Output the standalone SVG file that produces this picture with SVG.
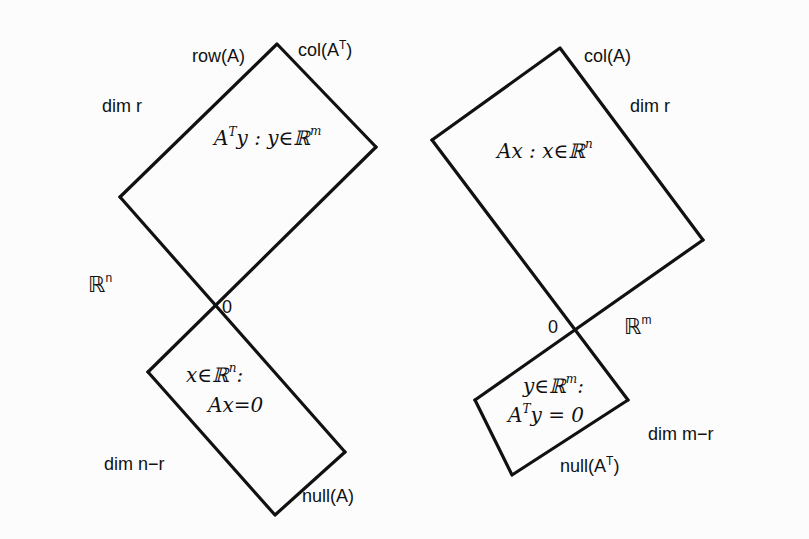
<svg xmlns="http://www.w3.org/2000/svg" width="809" height="539" viewBox="0 0 809 539">
<style>
.ln{fill:none;stroke:#111;stroke-width:3.2;stroke-linecap:round;stroke-linejoin:round}
.t{font-family:"Liberation Sans","DejaVu Sans",sans-serif;font-size:18px;fill:#111}
.m{font-family:"DejaVu Serif","Liberation Serif",serif;font-style:italic;font-size:20px;fill:#111}
.s{font-size:12px}
</style>
<rect width="809" height="539" fill="#fcfcfc"/>
<g id="row-space">
<polyline class="ln" points="120,197 277,44 376,147"/>
<text class="t" x="192" y="62">row(A)</text>
<text class="t" x="298" y="56">col(A<tspan class="s" dy="-7">T</tspan><tspan dy="7">)</tspan></text>
<text class="t" x="102" y="112">dim r</text>
<text class="m" x="214" y="145">A<tspan class="s" dy="-9">T</tspan><tspan dy="9">y : y∈ℝ</tspan><tspan class="s" dy="-10">m</tspan></text>
</g>
<g id="null-space">
<polyline class="ln" points="148,372 275,515 345,452"/>
<text class="m" x="186" y="382">x∈ℝ<tspan class="s" dy="-10">n</tspan><tspan dy="10">:</tspan></text>
<text class="m" x="208" y="412">Ax=0</text>
<text class="t" x="104" y="470">dim n−r</text>
<text class="t" x="302" y="502">null(A)</text>
</g>
<g id="col-space">
<polyline class="ln" points="432,140 560,48 703,240"/>
<text class="t" x="584" y="62">col(A)</text>
<text class="t" x="630" y="112">dim r</text>
<text class="m" x="497" y="158">Ax : x∈ℝ<tspan class="s" dy="-10">n</tspan></text>
</g>
<g id="left-null-space">
<polyline class="ln" points="475,400 512,475 628,400"/>
<text class="m" x="523" y="393">y∈ℝ<tspan class="s" dy="-10">m</tspan><tspan dy="10">:</tspan></text>
<text class="m" x="508" y="422">A<tspan class="s" dy="-9">T</tspan><tspan dy="9">y = 0</tspan></text>
<text class="t" x="648" y="440">dim m−r</text>
<text class="t" x="560" y="472">null(A<tspan class="s" dy="-7">T</tspan><tspan dy="7">)</tspan></text>
</g>
<g id="connectors">
<line class="ln" x1="120" y1="197" x2="345" y2="452"/>
<line class="ln" x1="376" y1="147" x2="148" y2="372"/>
<line class="ln" x1="432" y1="140" x2="628" y2="400"/>
<line class="ln" x1="703" y1="240" x2="475" y2="400"/>
</g>
<g id="origins">
<text class="t" x="88" y="292" style="font-size:22px">ℝ<tspan class="s" dy="-10">n</tspan></text>
<text class="t" x="222" y="313">0</text>
<text class="t" x="548" y="333">0</text>
<text class="t" x="624" y="334" style="font-size:22px">ℝ<tspan class="s" dy="-10">m</tspan></text>
</g>
</svg>
